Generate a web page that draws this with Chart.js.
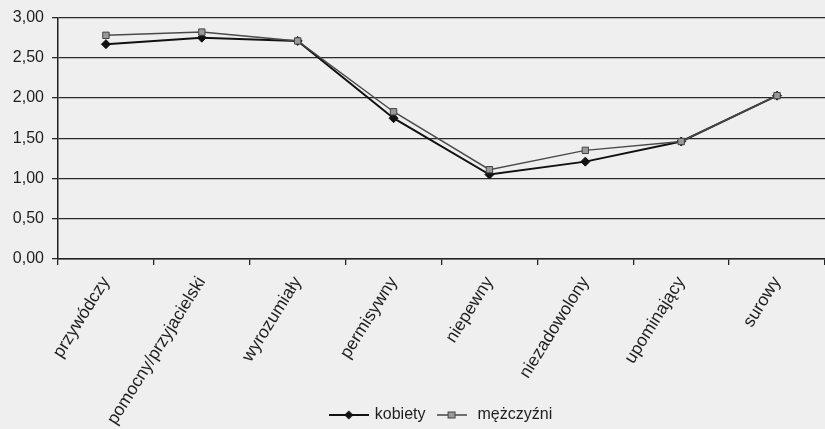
<!DOCTYPE html>
<html>
<head>
<meta charset="utf-8">
<script src="https://cdn.jsdelivr.net/npm/chart.js@4"></script>
<style>
  html, body { margin: 0; padding: 0; background: #efefef; overflow: hidden; }
  #wrap { width: 825px; height: 429px; }
</style>
</head>
<body>
<div id="wrap"><canvas id="c" width="825" height="429"></canvas></div>
<script>
const categories = ['przywódczy', 'pomocny/przyjacielski', 'wyrozumiały', 'permisywny', 'niepewny', 'niezadowolony', 'upominający', 'surowy'];
const kobiety = [2.67, 2.75, 2.71, 1.75, 1.05, 1.21, 1.46, 2.03];
const mezczyzni = [2.78, 2.82, 2.71, 1.83, 1.11, 1.35, 1.46, 2.03];
const seriesNames = ['kobiety', 'mężczyźni'];

const FONT = 'Liberation Sans, Arial, sans-serif';
const INK = '#1e1e1e';

// small legend glyph: a line segment with the series marker in the middle
function legendGlyph(width, drawMarker, lineColor, lineWidth) {
  const cv = document.createElement('canvas');
  cv.width = width; cv.height = 12;
  const g = cv.getContext('2d');
  g.strokeStyle = lineColor; g.lineWidth = lineWidth;
  g.beginPath(); g.moveTo(0, 6); g.lineTo(width, 6); g.stroke();
  drawMarker(g, width / 2, 6);
  return cv;
}
const kGlyph = legendGlyph(40, (g, x, y) => {
  g.fillStyle = '#111';
  g.beginPath(); g.moveTo(x, y - 4.5); g.lineTo(x + 4.5, y); g.lineTo(x, y + 4.5); g.lineTo(x - 4.5, y); g.closePath(); g.fill();
}, '#111', 2);
const mGlyph = legendGlyph(30, (g, x, y) => {
  g.fillStyle = '#9a9a9a'; g.strokeStyle = '#444'; g.lineWidth = 1;
  g.fillRect(x - 3.5, y - 3, 7, 6); g.strokeRect(x - 3.5, y - 3, 7, 6);
}, '#444', 1.5);
const glyphs = [kGlyph, mGlyph];

// let the rotated category labels run down to the bottom edge of the canvas
const labelRunout = {
  id: 'labelRunout',
  beforeDraw(chart) { chart.scales.x.bottom = chart.height; }
};

new Chart(document.getElementById('c'), {
  type: 'line',
  data: {
    labels: categories,
    datasets: [
      {
        label: seriesNames[0], data: kobiety, order: 1,
        borderColor: '#111', borderWidth: 2,
        pointStyle: 'rectRot', pointRadius: 4.5, pointBackgroundColor: '#111', pointBorderColor: '#111', pointBorderWidth: 1,
        tension: 0
      },
      {
        label: seriesNames[1], data: mezczyzni, order: 0,
        borderColor: '#4a4a4a', borderWidth: 1.5,
        pointStyle: 'rect', pointRadius: 4.5, pointBackgroundColor: '#9a9a9a', pointBorderColor: '#444', pointBorderWidth: 1,
        tension: 0
      }
    ]
  },
  plugins: [labelRunout],
  options: {
    responsive: false,
    animation: false,
    devicePixelRatio: 1,
    layout: { autoPadding: false, padding: { top: -1, right: 0, left: 0, bottom: -4 } },
    plugins: {
      tooltip: { enabled: false },
      legend: {
        position: 'bottom',
        fullSize: false,
        labels: {
          font: { family: FONT, size: 16 },
          color: INK,
          usePointStyle: true,
          pointStyleWidth: 36,
          padding: 8,
          sort: (a, b) => a.datasetIndex - b.datasetIndex,
          generateLabels(chart) {
            const items = Chart.defaults.plugins.legend.labels.generateLabels(chart);
            items.forEach(it => { it.pointStyle = glyphs[it.datasetIndex]; });
            return items;
          }
        }
      }
    },
    scales: {
      x: {
        offset: true,
        afterFit(scale) { scale.height = 140; scale.paddingRight = 0; },
        grid: { drawOnChartArea: false, drawTicks: true, tickLength: 6, offset: true, color: '#222', lineWidth: 1.3 },
        border: { color: '#222', width: 1.5 },
        ticks: {
          autoSkip: false, minRotation: 58, maxRotation: 58, padding: 8,
          font: { family: FONT, size: 17.5 }, color: INK
        }
      },
      y: {
        min: 0, max: 3,
        afterFit(scale) { scale.width = 58; },
        grid: { color: '#2a2a2a', lineWidth: 1.3, tickLength: 6 },
        border: { color: '#222', width: 1.5 },
        ticks: {
          stepSize: 0.5, padding: 8,
          font: { family: FONT, size: 16 }, color: INK,
          callback: v => v.toFixed(2).replace('.', ',')
        }
      }
    }
  }
});
</script>
</body>
</html>
